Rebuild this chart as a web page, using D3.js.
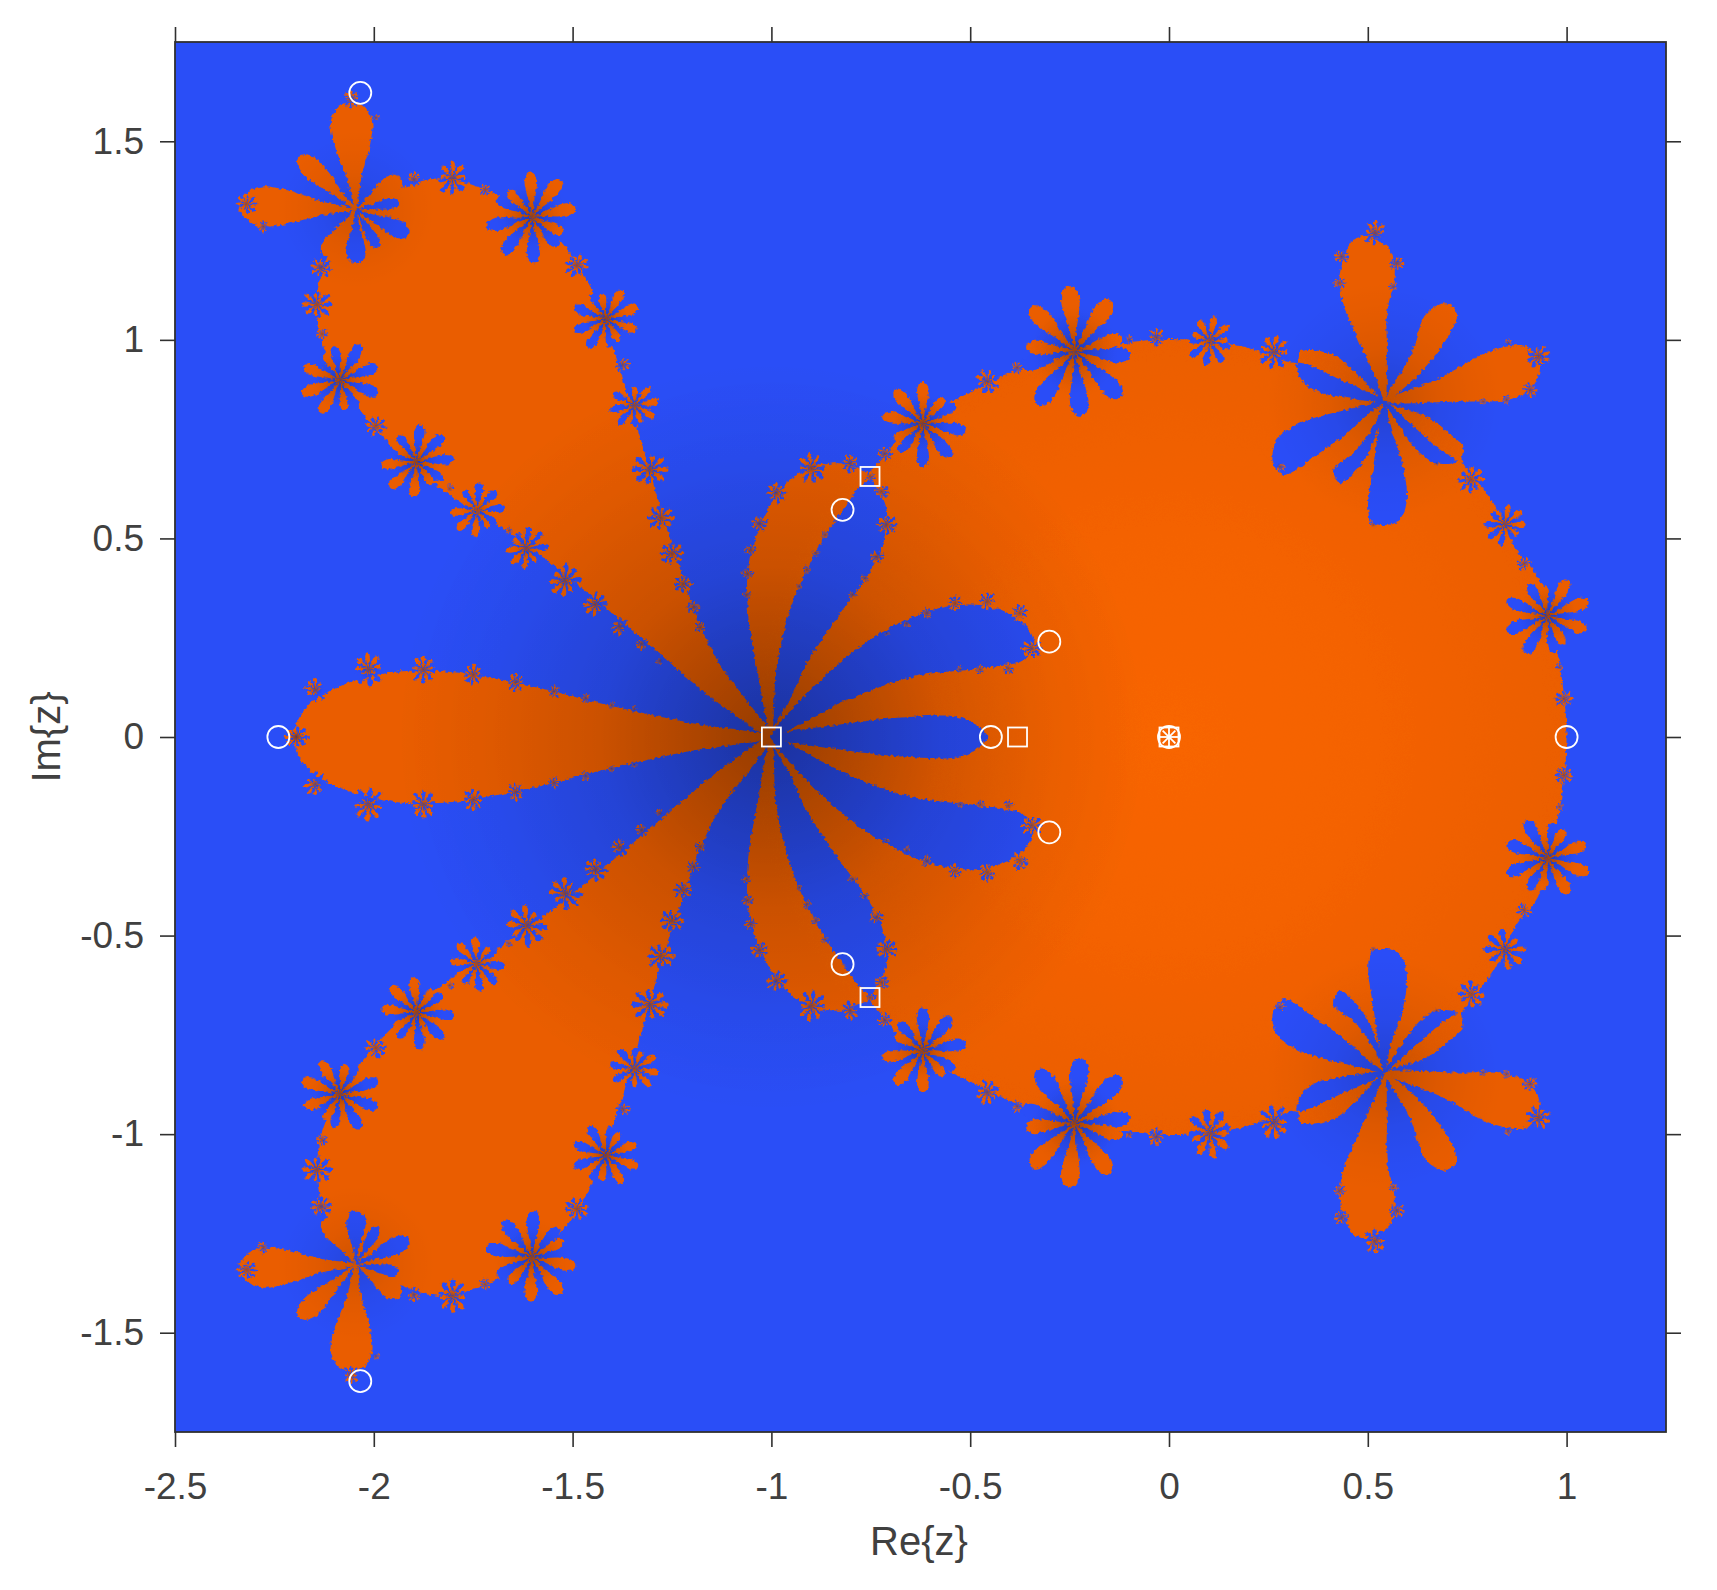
<!DOCTYPE html>
<html>
<head>
<meta charset="utf-8">
<script src="https://cdn.jsdelivr.net/npm/d3@7"></script>
<style>
  html, body { margin: 0; background: #fff; }
  text { font-family: "Liberation Sans", Arial, sans-serif; fill: #404040; }
</style>
</head>
<body>
<div class="container"></div>
<script>
const xTicks = [-2.5, -2, -1.5, -1, -0.5, 0, 0.5, 1];
const yTicks = [-1.5, -1, -0.5, 0, 0.5, 1, 1.5];

const bodyUpper = [[-1,0],[-.953,.093],[-.911,.186],[-.827,.312],[-.76,.404],[-.719,.488],[-.71,.572],[-.735,.63],[-.752,.656],
  [-.722,.7],[-.64,.79],[-.502,.867],[-.365,.931],[-.227,.97],[-.007,1.002],[.185,.983],[.323,.944],
  [.329,.97],[.413,.962],[.48,.907],[.543,.845],[.648,.807],[.715,.756],[.74,.731],[.736,.698],[.765,.656],[.816,.589],
  [.875,.471],[.927,.404],[.955,.3],[.982,.186],[.996,.08],[1,0]];
const axisLobeUpper = [[-1,0],[-1.216,.038],[-1.423,.083],[-1.63,.134],[-1.837,.166],[-1.974,.16],[-2.085,.128],[-2.168,.077],[-2.202,0]];
const axisBlueUpper = [[-1,0],[-.811,.034],[-.643,.051],[-.534,.051],[-.484,.03],[-.457,0]];

const bigLobe = [[-1,0],[-1.147,.212],[-1.223,.404],[-1.285,.597],[-1.333,.764],[-1.395,.97],[-1.457,1.137],[-1.533,1.252],[-1.602,1.317],
  [-1.726,1.381],[-1.837,1.407],[-1.947,1.375],[-2.043,1.329],[-2.126,1.188],[-2.143,1.086],[-2.126,.982],[-2.057,.854],[-1.947,.725],
  [-1.809,.61],[-1.63,.494],[-1.45,.353],[-1.298,.224],[-1.147,.096]];
const sideLobe = [[-1,0],[-1.037,.177],[-1.058,.303],[-1.058,.429],[-1.029,.53],[-.978,.622],[-.911,.673],[-.827,.689],[-.777,.673],[-.752,.656],
  [-.785,.622],[-.819,.572],[-.861,.513],[-.911,.421],[-.953,.32],[-.987,.177]];
const starUp = [[.543,.845],[.522,.899],[.48,.992],[.438,1.092],[.43,1.168],[.464,1.252],[.506,1.26],[.556,1.227],[.568,1.168],[.548,1.067],[.548,.975]];
const starUpRight = [[.543,.845],[.606,.958],[.648,1.067],[.698,1.092],[.724,1.067],[.707,1.017],[.631,.916]];
const starRight = [[.543,.845],[.682,.904],[.816,.975],[.9,.983],[.933,.933],[.908,.874],[.849,.849],[.724,.845]];
const orangeShapes = [bigLobe, sideLobe, starUp, starUpRight, starRight];

const pocketInner = [[-1,0],[-.811,.202],[-.643,.303],[-.534,.332],[-.433,.324],[-.358,.278],[-.341,.236],[-.366,.194],[-.475,.173],[-.643,.152],[-.811,.093]];
const pocketA = [[.543,.845],[.615,.782],[.682,.723],[.724,.694],[.673,.689],[.623,.723],[.581,.782]];
const pocketB = [[.543,.845],[.514,.681],[.501,.58],[.51,.542],[.548,.534],[.581,.547],[.598,.597],[.589,.681],[.556,.782]];
const pocketC = [[.543,.845],[.514,.782],[.464,.715],[.413,.672],[.43,.639],[.464,.664],[.501,.715],[.531,.79]];
const pocketD = [[.543,.845],[.447,.824],[.329,.79],[.271,.748],[.262,.689],[.288,.66],[.363,.705],[.447,.765],[.514,.824]];
const pocketE = [[.543,.845],[.422,.904],[.338,.941],[.321,.941],[.334,.899],[.363,.874],[.43,.857]];
const blueShapes = [pocketInner, pocketA, pocketB, pocketC, pocketD, pocketE];

// re, im, size, direction the orange petals point to (degrees)
const flowers = [
  [-1.602,1.31,.15,52],[-1.416,1.053,.11,20],[-1.344,.835,.08,10],[-1.305,.674,.06,0],[-1.278,.552,.045,0],[-1.25,.462,.04,0],[-1.222,.385,.03,0],[-1.196,.327,.022,0],[-1.179,.276,.018,0],
  [-2.085,.899,.13,200],[-1.892,.693,.12,225],[-1.74,.571,.09,225],[-1.616,.475,.07,225],[-1.519,.394,.055,225],[-1.443,.334,.04,225],[-1.381,.278,.03,225],[-1.326,.235,.022,225],[-1.28,.192,.015,225],
  [-1.802,1.407,.055,90],[-1.899,1.404,.025,90],[-1.72,1.378,.02,80],[-1.489,1.188,.04,30],[-1.374,.937,.025,10],[-2.143,1.089,.05,180],[-2.133,1.182,.035,170],[-2.13,1.015,.02,190],[-1.995,.783,.035,215],[-1.809,.625,.015,225],[-1.66,.52,.012,225],
  [-2.057,1.606,.03,90],[-1.995,1.559,.015,30],[-2.32,1.342,.035,180],[-2.278,1.285,.02,230],
  [-2.013,.17,.055,95],[-1.875,.17,.045,90],[-1.75,.157,.035,85],[-1.643,.138,.03,85],[-1.547,.115,.02,80],[-1.467,.098,.016,80],[-1.402,.08,.012,80],[-1.345,.07,.01,80],[-2.147,.119,.04,130],[-2.195,0,.04,180],
  [-.899,.677,.05,100],[-.802,.689,.03,80],[-.987,.614,.035,140],[-1.03,.537,.028,160],[-1.052,.471,.02,170],[-1.06,.411,.02,175],[-1.062,.358,.015,175],
  [-.865,.509,.012,-45],[-.888,.463,.014,-45],[-.911,.421,.014,-45],[-.93,.379,.01,-45],
  [-.71,.534,.035,180],[-.723,.618,.025,170],[-.735,.454,.025,200],[-.765,.4,.015,210],[-.796,.358,.015,220],[-.752,.656,.02,120],
  [-.376,.312,.03,240],[-.457,.341,.03,270],[-.538,.337,.025,270],[-.609,.312,.018,280],[-.66,.286,.014,280],[-.71,.261,.01,290],[-.345,.223,.035,180],[-.404,.173,.02,100],[-.475,.17,.015,90],[-.525,.17,.012,90],
  [-.237,.972,.21,95],[-.619,.79,.14,130],[.103,.998,.08,80],[.264,.97,.055,80],[-.032,1.006,.03,90],[-.1,1,.015,90],[-.457,.895,.04,115],[-.382,.93,.02,110],[-.715,.713,.025,140],
  [.76,.648,.045,45],[.845,.535,.07,40],[.893,.436,.025,20],[.952,.305,.14,20],[.982,.176,.012,10],[.993,.096,.03,0],
  [.518,1.269,.04,85],[.434,1.21,.025,170],[.573,1.193,.025,0],[.429,1.143,.02,180],[.564,1.134,.015,0],[.929,.958,.04,20],[.908,.874,.025,-45],[.849,.849,.015,-80],[.853,.992,.015,80],[.79,.845,.012,-90],
  [.279,.681,.02,-45],[.514,.534,.015,-90],[.673,.689,.012,-60]
];
const flowerScale = 0.78, petalFatness = 0.14;
// the big flower on the left lobe: angle, length, half width
const leftStarCentre = [-2.045, 1.328];
const leftStarOrange = [[93,.27,.052],[137,.195,.026],[178,.29,.05],[235,.14,.022],[35,.137,.024]];
const leftStarBlue = [[270,.135,.024],[300,.11,.014],[335,.147,.022],[10,.11,.014]];

// relative petal lengths of a flower, measured off the larger ones: offset from its direction, length
const orangeSpokes = [[0,1],[40,.95],[-40,.95],[80,.75],[-80,.75],[120,.45],[-120,.45],[160,.3],[-160,.3]];
const blueSpokes = [[20,.55],[-20,.55],[60,.6],[-60,.6],[100,.85],[-100,.85],[140,1],[-140,1],[180,1]];

// shading centres: re, im, radius, strength
const shades = [[-1,0,.95,1],[.543,.845,.3,.8],[-2.045,1.328,.2,.6],[-1.602,1.31,.1,.5],[-.237,.972,.12,.6],[-.619,.79,.08,.5],[-2.085,.899,.08,.5],[-1.892,.693,.07,.5],[-1.416,1.053,.06,.5],[.952,.305,.08,.5]];

const circleMarks = [[1,0],[-.448,0],[-.301,.24],[-.301,-.24],[-.821,.572],[-.821,-.572],[-2.034,1.622],[-2.034,-1.622],[-2.24,0],[0,0]];
const squareMarks = [[-1,0],[-.381,0],[-.752,.656],[-.752,-.656],[0,0]];

const width = 1717, height = 1590;
const x = d3.scaleLinear().domain([-2.5, 1.25]).range([175, 1666]);
const y = d3.scaleLinear().domain([1.75, -1.75]).range([42, 1432]);

const svg = d3.select(".container").append("svg")
    .attr("width", width).attr("height", height).style("display", "block");
const defs = svg.append("defs");

defs.append("clipPath").attr("id", "plot").append("rect")
    .attr("x", 175).attr("y", 42).attr("width", 1491).attr("height", 1390);

const orangeFill = defs.append("radialGradient").attr("id", "orangeFill")
    .attr("gradientUnits", "userSpaceOnUse")
    .attr("cx", x(0)).attr("cy", y(0)).attr("r", x(1.05) - x(0));
orangeFill.append("stop").attr("offset", 0).attr("stop-color", "#f86500");
orangeFill.append("stop").attr("offset", 0.5).attr("stop-color", "#f46200");
orangeFill.append("stop").attr("offset", 1).attr("stop-color", "#ea5d00");

const shade = defs.append("radialGradient").attr("id", "shade");
[[0, .2], [.2, .14], [.45, .07], [.75, .025], [1, 0]].forEach(s => {
    shade.append("stop").attr("offset", s[0]).attr("stop-color", "#000").attr("stop-opacity", s[1]);
});

// rough edge of the escape-time raster
const rough = defs.append("filter").attr("id", "rough")
    .attr("filterUnits", "userSpaceOnUse")
    .attr("x", 175).attr("y", 42).attr("width", 1491).attr("height", 1390);
rough.append("feTurbulence").attr("type", "fractalNoise").attr("baseFrequency", 0.28)
    .attr("numOctaves", 2).attr("seed", 4).attr("result", "noise");
rough.append("feDisplacementMap").attr("in", "SourceGraphic").attr("in2", "noise")
    .attr("scale", 5).attr("xChannelSelector", "R").attr("yChannelSelector", "G").attr("result", "moved");
rough.append("feGaussianBlur").attr("in", "moved").attr("stdDeviation", 0.6);

const mirror = pts => pts.map(p => [p[0], -p[1]]);
const closedLine = d3.line().x(d => x(d[0])).y(d => y(d[1])).curve(d3.curveCatmullRomClosed.alpha(0.5));

// teardrop petal going out of (cx, cy)
function petal(cx, cy, angle, len, hw) {
    const a = angle * Math.PI / 180, c = Math.cos(a), s = Math.sin(a);
    const local = [[0,0],[.3*len,.35*hw],[.6*len,.85*hw],[.82*len,hw],[.97*len,.55*hw],[len,0],[.97*len,-.55*hw],[.82*len,-hw],[.6*len,-.85*hw],[.3*len,-.35*hw]];
    return local.map(p => [cx + p[0]*c - p[1]*s, cy + p[0]*s + p[1]*c]);
}

const blue = "#2a4ef7", orange = "url(#orangeFill)";

const plot = svg.append("g").attr("clip-path", "url(#plot)");
plot.append("rect").attr("x", 175).attr("y", 42).attr("width", 1491).attr("height", 1390).attr("fill", blue);

const set = plot.append("g").attr("filter", "url(#rough)");

const bodyOutline = bodyUpper.concat(mirror(bodyUpper).slice(1, -1).reverse());
const axisLobe = axisLobeUpper.concat(mirror(axisLobeUpper).slice(1, -1).reverse());
const axisBlue = axisBlueUpper.concat(mirror(axisBlueUpper).slice(1, -1).reverse());

function drawShape(pts, fill) {
    set.append("path").attr("d", closedLine(pts)).attr("fill", fill);
}

drawShape(bodyOutline, orange);
drawShape(axisLobe, orange);
orangeShapes.forEach(s => { drawShape(s, orange); drawShape(mirror(s), orange); });
drawShape(axisBlue, blue);
blueShapes.forEach(s => { drawShape(s, blue); drawShape(mirror(s), blue); });

[1, -1].forEach(sign => {
    const cy = leftStarCentre[1] * sign;
    leftStarBlue.forEach(p => drawShape(petal(leftStarCentre[0], cy, p[0] * sign, p[1], p[2]), blue));
    leftStarOrange.forEach(p => drawShape(petal(leftStarCentre[0], cy, p[0] * sign, p[1], p[2]), orange));

    flowers.forEach(f => {
        const im = f[1] * sign, dir = f[3] * sign, size = f[2] * flowerScale;
        blueSpokes.forEach(p => drawShape(petal(f[0], im, dir + p[0], size * p[1], size * p[1] * petalFatness), blue));
        orangeSpokes.forEach(p => drawShape(petal(f[0], im, dir + p[0], size * p[1], size * p[1] * petalFatness), orange));
    });
});

// everything gets darker towards the parabolic points
const shading = plot.append("g");
shades.forEach(s => {
    [1, -1].forEach(sign => {
        shading.append("circle")
            .attr("cx", x(s[0])).attr("cy", y(s[1] * sign))
            .attr("r", x(s[2]) - x(0))
            .attr("fill", "url(#shade)").attr("opacity", s[3]);
    });
});
flowers.forEach(f => {
    [1, -1].forEach(sign => {
        shading.append("circle")
            .attr("cx", x(f[0])).attr("cy", y(f[1] * sign))
            .attr("r", x(f[2] * .5) - x(0))
            .attr("fill", "url(#shade)").attr("opacity", 1);
    });
});

// white markers
const marks = plot.append("g").attr("fill", "none").attr("stroke", "#fff").attr("stroke-width", 1.8);
marks.selectAll("circle").data(circleMarks).enter().append("circle")
    .attr("cx", d => x(d[0])).attr("cy", d => y(d[1])).attr("r", 11);
marks.selectAll("rect").data(squareMarks).enter().append("rect")
    .attr("x", d => x(d[0]) - 9.5).attr("y", d => y(d[1]) - 9.5).attr("width", 19).attr("height", 19);
[0, 45, 90, 135].forEach(a => {
    marks.append("line")
        .attr("x1", x(0) - 9).attr("x2", x(0) + 9).attr("y1", y(0)).attr("y2", y(0))
        .attr("transform", `rotate(${a},${x(0)},${y(0)})`);
});

// axes, ticks stick out on all four sides
const fmt = d => String(d);
function styleAxis(g, size) {
    g.select(".domain").remove();
    g.selectAll(".tick line").attr("stroke", "#303030").attr("stroke-width", 1.6);
    g.selectAll(".tick text").attr("font-size", size).attr("fill", "#404040");
}
svg.append("g").attr("transform", "translate(0,1432)")
    .call(d3.axisBottom(x).tickValues(xTicks).tickFormat(fmt).tickSize(15).tickPadding(26))
    .call(g => styleAxis(g, 37));
svg.append("g").attr("transform", "translate(0,42)")
    .call(d3.axisTop(x).tickValues(xTicks).tickFormat("").tickSize(15))
    .call(g => styleAxis(g, 37));
svg.append("g").attr("transform", "translate(175,0)")
    .call(d3.axisLeft(y).tickValues(yTicks).tickFormat(fmt).tickSize(15).tickPadding(16))
    .call(g => styleAxis(g, 37));
svg.append("g").attr("transform", "translate(1666,0)")
    .call(d3.axisRight(y).tickValues(yTicks).tickFormat("").tickSize(15))
    .call(g => styleAxis(g, 37));

svg.append("rect").attr("x", 175).attr("y", 42).attr("width", 1491).attr("height", 1390)
    .attr("fill", "none").attr("stroke", "#303030").attr("stroke-width", 1.8);

svg.append("text").attr("x", 919).attr("y", 1555).attr("text-anchor", "middle")
    .attr("font-size", 40).text("Re{z}");
svg.append("text").attr("transform", "translate(60,737) rotate(-90)").attr("text-anchor", "middle")
    .attr("font-size", 40).text("Im{z}");
</script>
</body>
</html>
